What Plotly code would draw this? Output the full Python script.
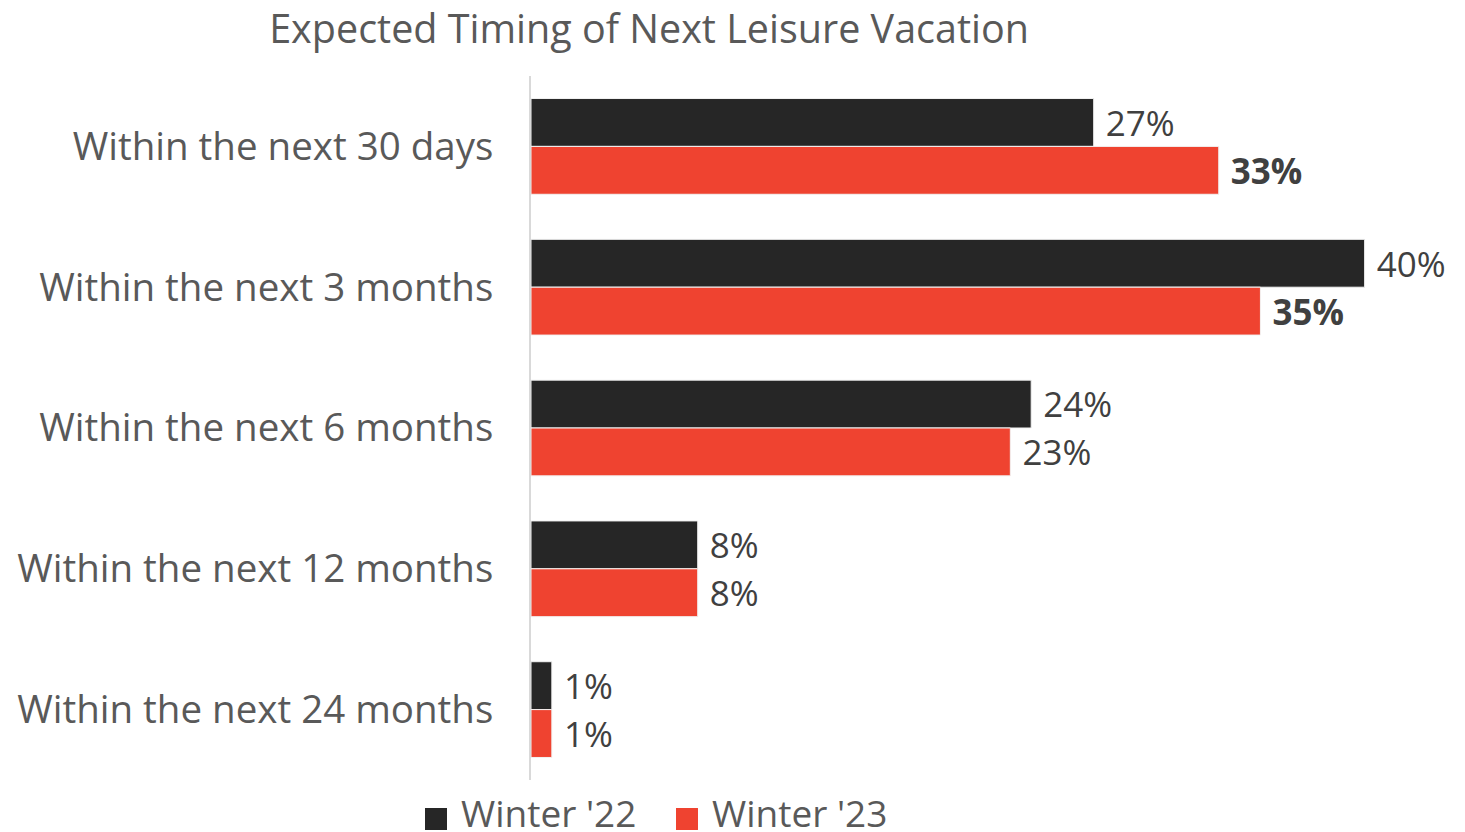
import plotly.graph_objects as go

categories = ["Within the next 30 days", "Within the next 3 months", "Within the next 6 months",
              "Within the next 12 months", "Within the next 24 months"]
series_names = ["Winter '22", "Winter '23"]
winter22 = [27, 40, 24, 8, 1]
winter23 = [33, 35, 23, 8, 1]
bold23 = [True, True, False, False, False]
colors = ["#262626", "#EF4330"]

FONT = "Open Sans"
TXT = "#404040"
GRAY = "#595959"

def labels(vals, bold=None):
    out = []
    for i, v in enumerate(vals):
        s = f"{v}%"
        if bold and bold[i]:
            s = f"<b>{s}</b>"
        out.append("\u00a0" + s)
    return out

fig = go.Figure()
for name, vals, bold, col in [(series_names[0], winter22, None, colors[0]),
                              (series_names[1], winter23, bold23, colors[1])]:
    fig.add_trace(go.Bar(
        y=categories, x=vals, orientation="h", name=name, showlegend=False,
        marker=dict(color=col, line=dict(color="#f2f2f2", width=1)),
        text=labels(vals, bold), textposition="outside", cliponaxis=False,
        textfont=dict(family=FONT, size=36.5, color=TXT),
    ))

# custom legend (square swatches + labels) below the plot, in paper coordinates
legend_sq_x = [(-0.1156, -0.0916), (0.1581, 0.1821)]
legend_txt_x = [-0.0785, 0.1952]
for name, col, (x0, x1), tx in zip(series_names, colors, legend_sq_x, legend_txt_x):
    fig.add_shape(type="rect", xref="paper", yref="paper", x0=x0, x1=x1,
                  y0=-0.071, y1=-0.0398, fillcolor=col, line=dict(width=0))
    fig.add_annotation(text=name, xref="paper", yref="paper", x=tx, y=-0.0455,
                       xanchor="left", yanchor="middle", showarrow=False,
                       font=dict(family=FONT, size=37, color=GRAY))

fig.update_layout(
    width=1457, height=824,
    margin=dict(l=523, r=17, t=68, b=52),
    paper_bgcolor="white", plot_bgcolor="white",
    barmode="group", bargap=0.32, bargroupgap=0,
    font=dict(family=FONT, color=GRAY),
    title=dict(text="Expected Timing of Next Leisure Vacation", x=0.44, xanchor="center",
               y=0.9745, yanchor="middle", font=dict(family=FONT, size=39.5, color=GRAY)),
    xaxis=dict(range=[0, 44], visible=False, showgrid=False, zeroline=False),
    yaxis=dict(autorange="reversed", showgrid=False, zeroline=False, automargin=False,
               showline=True, linecolor="#d9d9d9", linewidth=2,
               ticks="", ticklabelstandoff=28,
               tickfont=dict(family=FONT, size=38.5, color=GRAY)),
    showlegend=False,
)

fig.write_html("out.html")
